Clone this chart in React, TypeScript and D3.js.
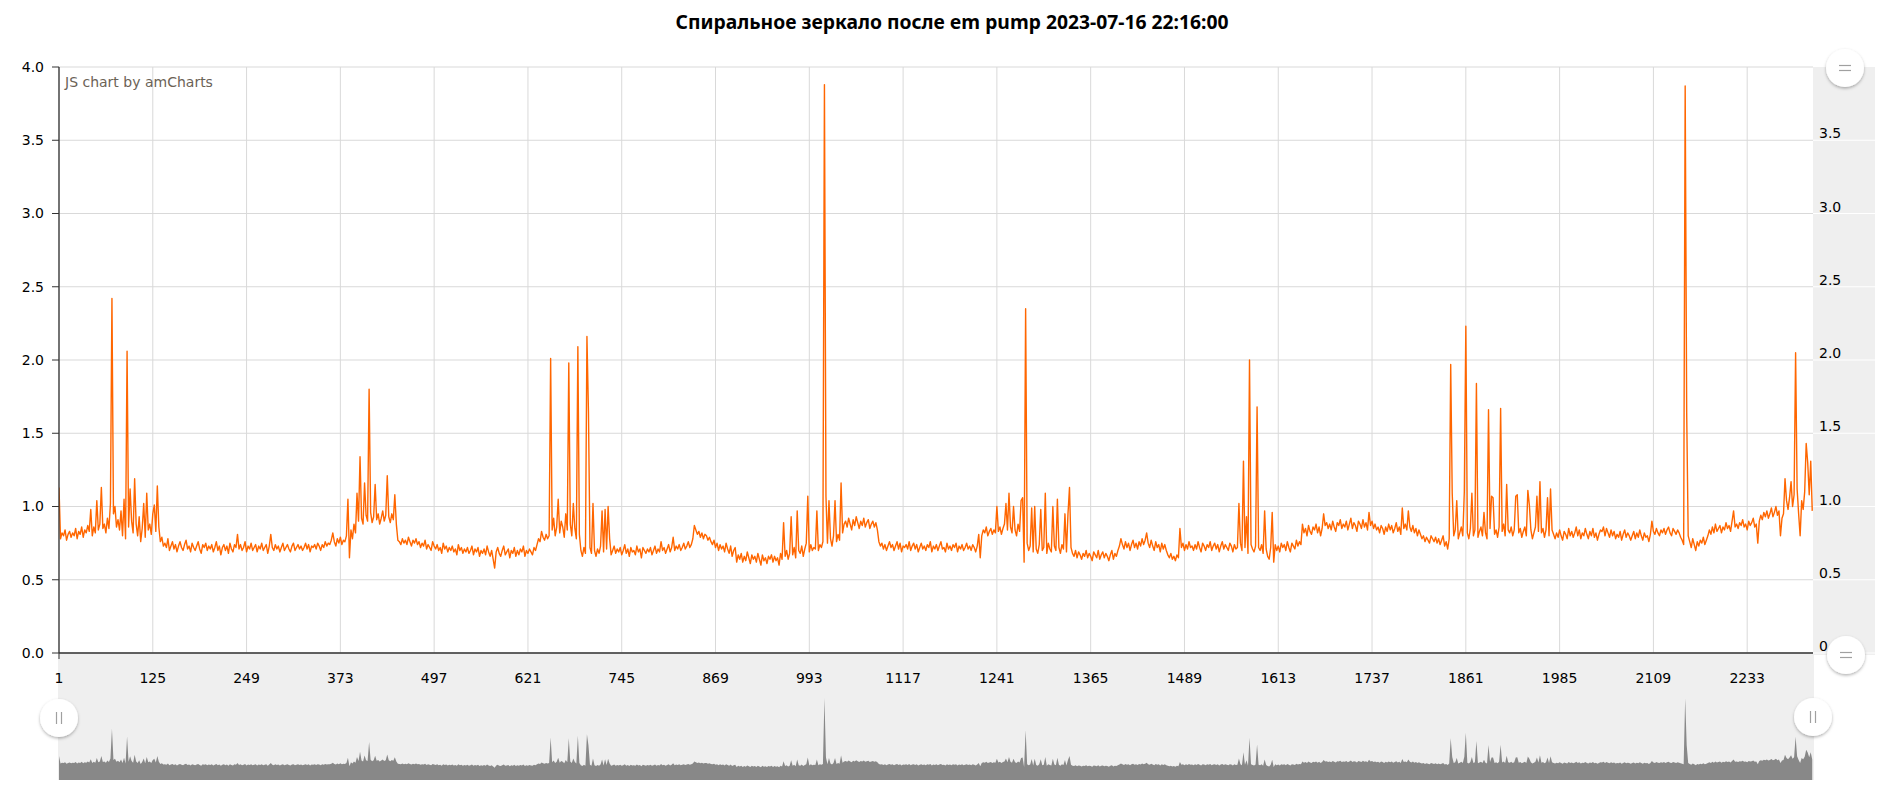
import React from "react";
import * as d3 from "d3";

const TITLE = "Спиральное зеркало после em pump 2023-07-16 22:16:00";
const CREDIT = "JS chart by amCharts";

// sampled every 2nd category starting at 1 (values in hundredths)
const valuesHundredths: number[] = [
  113,78,82,80,84,77,81,83,79,82,
  80,85,78,83,81,86,79,84,82,87,
  83,98,80,86,82,104,84,88,113,85,
  88,82,92,85,102,242,95,100,86,91,
  84,97,80,105,78,206,86,112,90,82,
  119,88,80,93,76,85,102,79,109,84,
  88,81,95,101,83,114,86,76,79,73,
  75,72,78,70,73,76,71,74,69,73,
  76,72,70,74,77,71,73,69,75,72,
  70,73,76,71,68,74,72,75,70,73,
  71,74,69,72,76,70,73,67,72,74,
  70,73,68,75,71,69,74,72,81,71,
  74,70,72,76,69,73,71,75,70,72,
  74,69,73,71,75,70,72,74,68,73,
  81,72,70,74,71,73,69,72,75,70,
  72,74,71,69,73,75,70,72,74,71,
  73,70,72,75,71,74,69,73,72,74,
  71,75,73,70,74,72,76,73,75,74,
  77,82,76,73,78,75,79,74,77,76,
  80,105,65,84,78,88,82,109,90,134,
  92,88,116,94,90,180,96,89,93,115,
  91,95,88,92,97,90,94,121,93,89,
  95,91,108,88,77,76,74,78,75,77,
  74,79,76,73,77,75,78,74,76,72,
  75,73,77,71,74,72,70,76,73,71,
  74,70,72,68,75,71,73,69,72,70,
  73,69,71,67,74,70,72,68,71,69,
  72,68,70,73,67,71,69,72,66,70,
  68,71,67,73,69,66,70,64,58,69,
  72,68,66,70,73,67,69,71,65,70,
  68,72,66,70,67,71,69,73,66,70,
  68,71,69,67,72,70,74,78,76,83,
  79,77,81,78,80,201,84,92,80,86,
  105,82,90,86,79,95,84,198,88,80,
  102,85,78,209,81,70,66,72,68,216,
  165,72,68,102,70,66,71,68,73,97,
  69,98,71,100,78,67,70,73,68,71,
  69,72,67,70,74,68,71,66,72,69,
  70,67,73,69,71,65,72,70,68,71,
  69,72,67,70,73,68,71,69,76,70,
  72,68,71,74,69,72,79,70,73,71,
  74,70,72,75,71,73,76,72,74,78,
  87,84,81,83,79,82,78,81,80,77,
  79,76,74,77,72,75,70,74,71,73,
  69,75,71,68,73,66,70,72,62,67,
  64,68,62,66,63,69,65,61,67,64,
  66,62,68,64,60,67,63,65,61,66,
  64,67,62,66,63,65,60,68,64,89,
  66,70,64,68,93,67,72,65,97,70,
  68,73,66,71,75,107,69,74,70,72,
  71,97,70,74,72,76,388,107,75,104,
  78,73,80,104,76,81,77,116,82,88,
  90,86,92,88,84,91,87,93,89,85,
  90,87,92,86,89,91,85,88,90,86,
  89,84,76,73,75,71,74,70,73,76,
  72,74,70,73,76,71,75,69,73,72,
  74,71,76,70,73,75,71,74,69,72,
  75,71,73,70,74,72,76,69,73,71,
  74,70,73,76,71,72,69,75,71,73,
  70,74,72,75,69,73,71,74,70,72,
  75,71,73,70,74,72,69,73,81,65,
  80,84,82,86,80,83,85,81,84,82,
  100,83,86,81,85,88,102,84,109,86,
  82,100,84,80,88,83,104,106,62,235,
  75,70,73,99,69,100,71,68,74,98,
  70,72,109,68,75,71,69,100,73,70,
  105,72,68,74,71,95,69,95,113,72,
  68,66,70,65,69,67,64,68,66,70,
  65,68,66,63,69,67,65,70,64,67,
  69,65,68,66,63,67,70,64,68,66,
  70,73,78,74,71,76,72,75,70,74,
  77,72,75,71,76,73,78,74,77,82,
  75,72,77,73,70,76,72,74,69,75,
  71,74,70,67,65,68,64,66,63,67,
  65,85,72,75,70,74,71,76,72,73,
  70,74,71,76,72,69,75,73,70,74,
  72,76,70,73,75,71,74,69,73,76,
  71,74,72,70,75,73,69,74,71,72,
  102,75,70,131,72,93,68,200,74,71,
  69,73,168,72,70,74,68,97,71,66,
  64,72,96,62,74,70,73,69,75,72,
  74,70,76,72,69,75,73,71,77,73,
  76,74,88,82,85,80,87,83,81,86,
  84,88,82,86,80,85,95,87,89,85,
  88,84,90,86,83,89,87,91,85,88,
  86,90,84,88,92,85,89,87,83,90,
  88,85,91,86,89,84,96,87,90,85,
  88,84,86,82,87,85,81,86,83,88,
  84,87,82,85,89,83,86,81,99,85,
  88,84,97,86,83,87,82,85,80,84,
  81,78,80,76,79,77,75,80,78,76,
  79,75,78,74,77,80,73,76,71,78,
  197,109,80,84,104,78,82,86,80,110,
  223,82,78,85,109,80,84,184,79,83,
  86,80,96,82,78,166,85,107,106,81,
  84,79,86,167,83,88,80,115,84,82,
  86,80,84,107,108,82,85,79,83,86,
  80,111,101,84,78,82,86,107,83,117,
  82,85,79,84,106,80,112,84,81,78,
  82,79,84,80,77,83,81,78,85,80,
  83,79,82,86,80,84,78,82,80,85,
  81,78,83,80,85,79,82,77,81,84,
  83,86,80,85,82,79,84,80,83,78,
  81,79,83,77,81,84,79,82,80,77,
  80,83,78,82,79,84,80,77,82,79,
  80,76,81,90,83,81,85,82,80,84,
  82,85,81,84,86,82,80,85,83,81,
  84,82,79,77,74,387,164,80,76,72,
  78,74,70,76,73,77,75,79,74,77,
  80,84,81,86,82,88,83,85,87,82,
  86,84,89,85,87,83,90,97,86,88,
  85,89,87,91,86,88,84,90,87,89,
  92,86,88,75,90,94,91,96,93,97,
  92,95,99,93,96,100,94,97,80,92,
  95,119,104,98,106,117,100,108,205,112,
  95,80,104,98,110,143,130,108,131,97,
];

const CATEGORY_MIN = 1;
const CATEGORY_MAX = 2320;
const CATEGORY_STEP = 2;

const xTickLabels = [1, 125, 249, 373, 497, 621, 745, 869, 993, 1117, 1241, 1365, 1489, 1613, 1737, 1861, 1985, 2109, 2233];
const yTickValues = [0, 0.5, 1, 1.5, 2, 2.5, 3, 3.5, 4];
const yRightTickValues = [0, 0.5, 1, 1.5, 2, 2.5, 3, 3.5];

type Pt = { c: number; v: number };
const data: Pt[] = valuesHundredths.map((h, i) => ({ c: CATEGORY_MIN + i * CATEGORY_STEP, v: h / 100 }));

const FONT = "'DejaVu Sans', Verdana, sans-serif";

function Grip({ cx, cy, vertical }: { cx: number; cy: number; vertical: boolean }) {
  return (
    <g>
      <circle cx={cx} cy={cy} r={19} fill="#ffffff" filter="url(#gripShadow)" />
      {vertical ? (
        <g stroke="#a0a0a0" strokeWidth={1.2}>
          <line x1={cx - 2.5} x2={cx - 2.5} y1={cy - 6} y2={cy + 6} />
          <line x1={cx + 2.5} x2={cx + 2.5} y1={cy - 6} y2={cy + 6} />
        </g>
      ) : (
        <g stroke="#a0a0a0" strokeWidth={1.2}>
          <line x1={cx - 6} x2={cx + 6} y1={cy - 2.5} y2={cy - 2.5} />
          <line x1={cx - 6} x2={cx + 6} y1={cy + 2.5} y2={cy + 2.5} />
        </g>
      )}
    </g>
  );
}

export default function App() {
  const W = 1886;
  const H = 792;
  const left = 59;
  const right = 1813;
  const top = 67;
  const bottom = 653;

  const x = d3.scaleLinear().domain([CATEGORY_MIN, CATEGORY_MAX]).range([left, right]);
  const y = d3.scaleLinear().domain([0, 4]).range([bottom, top]);
  const maxV = d3.max(data, (d) => d.v) as number;
  const ys = d3.scaleLinear().domain([0, maxV]).range([780, 698]);

  const line = d3
    .line<Pt>()
    .x((d) => x(d.c))
    .y((d) => y(d.v));
  const area = d3
    .area<Pt>()
    .x((d) => x(d.c))
    .y0(780)
    .y1((d) => ys(d.v));

  const grid = "#d9d9d9";

  return (
    <div style={{ position: "absolute", left: 0, top: 0 }}>
      <svg width={W} height={H} style={{ display: "block", background: "#fff" }}>
        <defs>
          <filter id="gripShadow" x="-50%" y="-50%" width="200%" height="200%">
            <feDropShadow dx={0} dy={1.5} stdDeviation={1.6} floodColor="#000" floodOpacity={0.3} />
          </filter>
          <clipPath id="plotClip">
            <rect x={left} y={top - 2} width={right - left} height={bottom - top + 2} />
          </clipPath>
        </defs>

        <text
          x={952}
          y={29}
          textAnchor="middle"
          fontFamily="'Noto Sans', sans-serif"
          fontWeight="bold"
          fontSize={19}
          textLength={553}
          lengthAdjust="spacingAndGlyphs"
          fill="#000"
        >
          {TITLE}
        </text>

        {/* right value scrollbar background */}
        <rect x={right} y={top} width={1875 - right} height={655 - top} fill="#efefef" />
        {/* bottom scrollbar background */}
        <rect x={58} y={bottom} width={right - 58 + 1} height={780 - bottom} fill="#efefef" />

        {/* horizontal grid */}
        {yTickValues.map((v) => (
          <line key={"hg" + v} x1={left} x2={right} y1={y(v)} y2={y(v)} stroke={grid} strokeWidth={1} />
        ))}
        {yRightTickValues.map((v) => (
          <line key={"hgr" + v} x1={right} x2={1875} y1={y(v)} y2={y(v)} stroke="#ffffff" strokeWidth={1} />
        ))}
        {/* vertical grid */}
        {xTickLabels.map((c) => (
          <line key={"vg" + c} x1={x(c)} x2={x(c)} y1={top} y2={bottom} stroke={grid} strokeWidth={1} />
        ))}

        <text x={65} y={87} fontFamily={FONT} fontSize={14} fill="#6b6256">
          {CREDIT}
        </text>

        {/* series */}
        <path d={line(data) || ""} fill="none" stroke="#ff6600" strokeWidth={1.4} clipPath="url(#plotClip)" strokeLinejoin="round" />

        {/* axes */}
        <line x1={left} x2={left} y1={top} y2={bottom} stroke="#333" strokeWidth={1.3} />
        <line x1={left} x2={right} y1={bottom} y2={bottom} stroke="#333" strokeWidth={1.3} />
        <line x1={left} x2={left} y1={bottom} y2={bottom + 6} stroke="#333" strokeWidth={1} />
        {yTickValues.map((v) => (
          <g key={"yl" + v}>
            <line x1={left - 7} x2={left} y1={y(v)} y2={y(v)} stroke="#333" strokeWidth={1} />
            <text x={44} y={y(v)} dy="0.35em" textAnchor="end" fontFamily={FONT} fontSize={14} fill="#000">
              {v.toFixed(1)}
            </text>
          </g>
        ))}
        {yRightTickValues.map((v) => (
          <text key={"yr" + v} x={1819} y={y(v) - 2} fontFamily={FONT} fontSize={14} fill="#000">
            {v === 0 ? "0" : v.toFixed(1)}
          </text>
        ))}
        {xTickLabels.map((c) => (
          <text key={"xl" + c} x={x(c)} y={678} dy="0.35em" textAnchor="middle" fontFamily={FONT} fontSize={14} fill="#000">
            {c}
          </text>
        ))}

        {/* scrollbar series */}
        <path d={area(data) || ""} fill="#888888" stroke="none" />

        <Grip cx={1845} cy={68} vertical={false} />
        <Grip cx={1846} cy={655} vertical={false} />
        <Grip cx={59} cy={718} vertical={true} />
        <Grip cx={1813} cy={717} vertical={true} />
      </svg>
    </div>
  );
}
